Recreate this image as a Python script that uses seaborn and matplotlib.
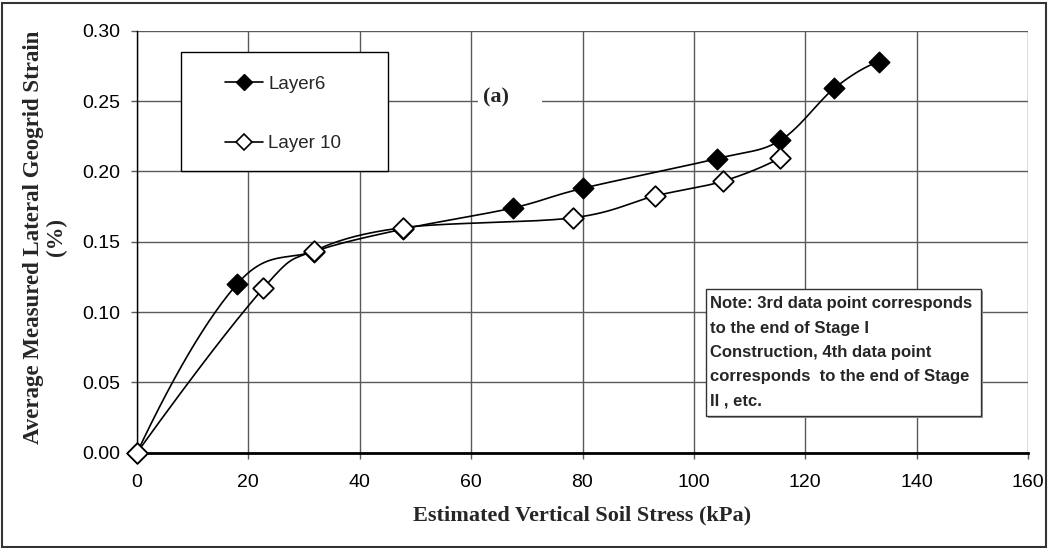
import numpy as np
import pandas as pd
import matplotlib
matplotlib.use("Agg")
import matplotlib.pyplot as plt
from matplotlib.lines import Line2D
from matplotlib.patches import Rectangle
import seaborn as sns

# ---- data ----
layer6_stress = [0, 18.0, 31.7, 47.8, 67.5, 80.1, 104.1, 115.5, 125.2, 133.2]
layer6_strain = [0.0, 0.120, 0.143, 0.159, 0.174, 0.188, 0.209, 0.222, 0.259, 0.278]
layer10_stress = [0, 22.7, 31.7, 47.8, 78.3, 93.0, 105.2, 115.5]
layer10_strain = [0.0, 0.117, 0.1435, 0.160, 0.167, 0.1825, 0.193, 0.2095]
series_names = ["Layer6", "Layer 10"]
x_ticks = [0, 20, 40, 60, 80, 100, 120, 140, 160]
y_ticks = [0.00, 0.05, 0.10, 0.15, 0.20, 0.25, 0.30]
x_label = "Estimated Vertical Soil Stress (kPa)"
y_label = "Average Measured Lateral Geogrid Strain\n(%)"
note_text = ("Note: 3rd data point corresponds\nto the end of Stage I\n"
             "Construction, 4th data point\ncorresponds  to the end of Stage\nII , etc.")
panel_tag = "(a)"


def smooth(xs, ys, n=30):
    """Excel-style smoothed line (cubic Bezier / Catmull-Rom) through the data points."""
    P = np.column_stack([xs, ys]).astype(float)
    # end tangents from a quadratic end condition
    t1 = (P[2] - P[0]) / 2.0
    t0 = 2 * (P[1] - P[0]) - t1
    tn1 = (P[-1] - P[-3]) / 2.0
    tn = 2 * (P[-1] - P[-2]) - tn1
    pre = P[1] - 2 * t0
    post = P[-2] + 2 * tn
    P_ext = np.vstack([pre, P, post])
    out = []
    t = np.linspace(0, 1, n)[:, None]
    for i in range(1, len(P_ext) - 2):
        p0, p1, p2, p3 = P_ext[i - 1], P_ext[i], P_ext[i + 1], P_ext[i + 2]
        c1 = p1 + (p2 - p0) / 6.0
        c2 = p2 - (p3 - p1) / 6.0
        seg = ((1 - t) ** 3) * p1 + 3 * ((1 - t) ** 2) * t * c1 + 3 * (1 - t) * t ** 2 * c2 + t ** 3 * p2
        out.append(seg if i == 1 else seg[1:])
    c = np.vstack(out)
    return c[:, 0], c[:, 1]


sns.set_theme(style="white")
plt.rcParams["font.family"] = ["Liberation Sans", "DejaVu Sans"]

W, H = 1048, 548
fig = plt.figure(figsize=(W / 100, H / 100), dpi=100)
L, R, T, B = 137, 1028, 30.7, 452.7
ax = fig.add_axes([L / W, 1 - B / H, (R - L) / W, (B - T) / H])

# smoothed lines
for xs, ys, z in [(layer6_stress, layer6_strain, 3), (layer10_stress, layer10_strain, 5)]:
    cx, cy = smooth(xs, ys)
    df = pd.DataFrame({"x": cx, "y": cy})
    sns.lineplot(data=df, x="x", y="y", sort=False, estimator=None, color="black",
                 linewidth=1.2, ax=ax, zorder=z)

# markers
d6 = pd.DataFrame({"x": layer6_stress, "y": layer6_strain})
d10 = pd.DataFrame({"x": layer10_stress, "y": layer10_strain})
sns.scatterplot(data=d6, x="x", y="y", marker="D", s=110, color="black",
                edgecolor="black", linewidth=1.0, ax=ax, zorder=4, clip_on=False)
sns.scatterplot(data=d10, x="x", y="y", marker="D", s=110, color="white",
                edgecolor="black", linewidth=1.3, ax=ax, zorder=6, clip_on=False)

ax.set_xlim(0, 160)
ax.set_ylim(0, 0.30)
ax.set_xticks(x_ticks)
ax.set_xticklabels([str(v) for v in x_ticks])
ax.set_yticks(y_ticks)
ax.set_yticklabels([f"{v:.2f}" for v in y_ticks])
ax.grid(True, color="#5a5a5a", linewidth=1.0)
ax.set_axisbelow(True)
for s in ["top", "right"]:
    ax.spines[s].set_visible(False)
ax.spines["left"].set_color("black")
ax.spines["left"].set_linewidth(1.0)
ax.spines["bottom"].set_color("black")
ax.spines["bottom"].set_linewidth(2.0)
ax.tick_params(axis="both", which="both", direction="out", length=4, width=1,
               color="#5a5a5a", labelsize=14, labelcolor="black", left=True, bottom=True)
ax.tick_params(axis="y", pad=8)
ax.tick_params(axis="x", pad=11)

serif = ["Liberation Serif", "DejaVu Serif"]
ax.set_xlabel(x_label, fontsize=16, fontweight="bold", family=serif, va="center")
ax.xaxis.set_label_coords(0.5, (B - 515) / (B - T))
ax.set_ylabel(y_label, fontsize=16.5, fontweight="bold", family=serif,
              va="center", ha="center", linespacing=1.1)
ax.yaxis.set_label_coords((45 - L) / (R - L), 0.51)


def px(x, y):
    return (x / W, 1 - y / H)


# legend box
lx0, ly0, lx1, ly1 = 181, 52.3, 387.7, 171
fig.patches.append(Rectangle(px(lx0, ly1), (lx1 - lx0) / W, (ly1 - ly0) / H,
                             transform=fig.transFigure, facecolor="white",
                             edgecolor="black", linewidth=1.0, zorder=7))
handles = [Line2D([], [], color="black", lw=1.2, marker="D", markersize=8,
                  markerfacecolor="black", markeredgecolor="black"),
           Line2D([], [], color="black", lw=1.2, marker="D", markersize=8,
                  markerfacecolor="white", markeredgecolor="black", markeredgewidth=1.2)]
leg = fig.legend(handles, series_names, loc="upper left",
                 bbox_to_anchor=px(225, 75.5), frameon=False, fontsize=13.5,
                 handlelength=2.05, handletextpad=0.27, labelspacing=2.27,
                 borderpad=0, borderaxespad=0)
leg.set_zorder(8)

# (a) tag with white background
fig.patches.append(Rectangle(px(478, 110), (542 - 478) / W, 26 / H,
                             transform=fig.transFigure, facecolor="white",
                             edgecolor="none", zorder=7))
fig.text(*px(483, 97.5), panel_tag, fontsize=16, fontweight="bold", family=serif,
         ha="left", va="center", zorder=8)

# note box
nx0, ny0, nx1, ny1 = 706, 289, 980.7, 415.7
fig.patches.append(Rectangle(px(nx0 + 2, ny1 + 2), (nx1 - nx0) / W, (ny1 - ny0) / H,
                             transform=fig.transFigure, facecolor="#9a9a9a",
                             edgecolor="none", zorder=6))
fig.patches.append(Rectangle(px(nx0, ny1), (nx1 - nx0) / W, (ny1 - ny0) / H,
                             transform=fig.transFigure, facecolor="white",
                             edgecolor="#333333", linewidth=1.0, zorder=7))
fig.text(*px(710, 352.5), note_text, fontsize=12, fontweight="bold",
         ha="left", va="center", linespacing=1.78, zorder=8)

# outer figure border
fig.patches.append(Rectangle((1.5 / W, 1.5 / H), (W - 4) / W, (H - 4) / H,
                             transform=fig.transFigure, facecolor="none",
                             edgecolor="#333333", linewidth=1.5, zorder=10))

fig.savefig("out.png", dpi=100)
